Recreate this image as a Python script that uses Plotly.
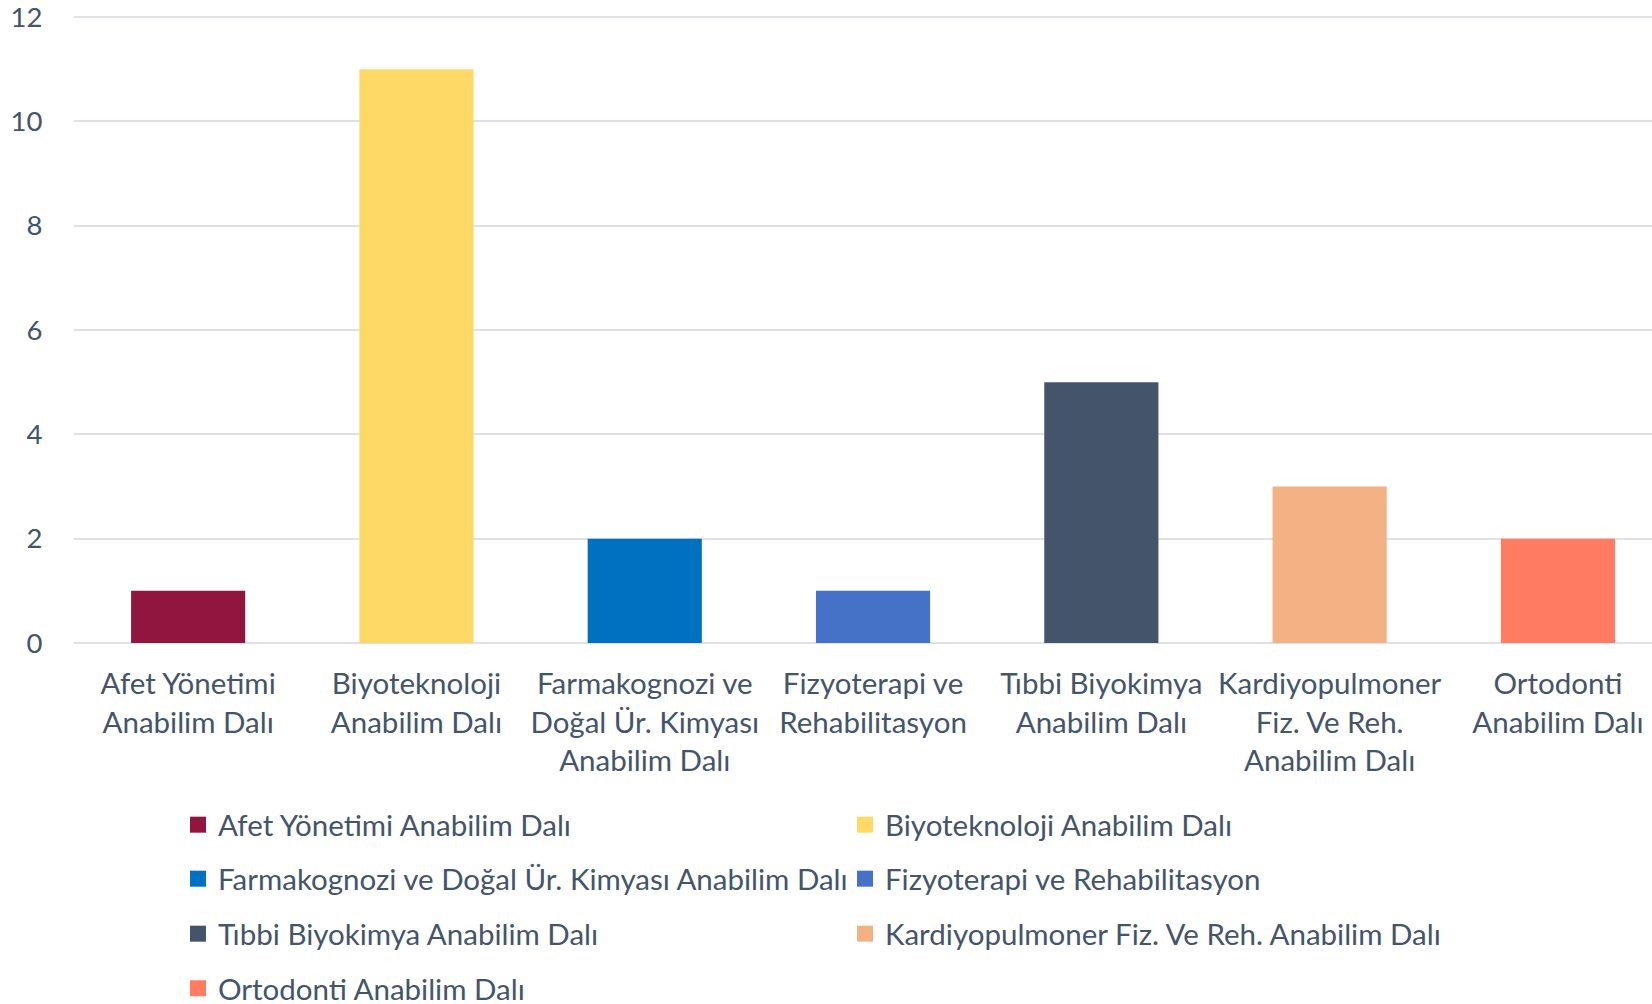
import plotly.graph_objects as go

categories = [
    "Afet Yönetimi Anabilim Dalı",
    "Biyoteknoloji Anabilim Dalı",
    "Farmakognozi ve Doğal Ür. Kimyası Anabilim Dalı",
    "Fizyoterapi ve Rehabilitasyon",
    "Tıbbi Biyokimya Anabilim Dalı",
    "Kardiyopulmoner Fiz. Ve Reh. Anabilim Dalı",
    "Ortodonti Anabilim Dalı",
]
tick_labels = [
    "Afet Yönetimi<br>Anabilim Dalı",
    "Biyoteknoloji<br>Anabilim Dalı",
    "Farmakognozi ve<br>Doğal Ür. Kimyası<br>Anabilim Dalı",
    "Fizyoterapi ve<br>Rehabilitasyon",
    "Tıbbi Biyokimya<br>Anabilim Dalı",
    "Kardiyopulmoner<br>Fiz. Ve Reh.<br>Anabilim Dalı",
    "Ortodonti<br>Anabilim Dalı",
]
values = [1, 11, 2, 1, 5, 3, 2]
colors = ["#901640", "#FFD966", "#0070C0", "#4571C6", "#44546A", "#F4B183", "#FF7C63"]
y_ticks = [0, 2, 4, 6, 8, 10, 12]

TEXT = "#44546A"
FONT = "Lato"
FS = 29.5

fig = go.Figure()
fig.add_trace(go.Bar(
    x=categories, y=values, marker=dict(color=colors, line=dict(width=0)),
    showlegend=False, hoverinfo="x+y",
))

# legend entries: two per row, one legend per row
legend_ids = ["legend", "legend", "legend2", "legend2", "legend3", "legend3", "legend4"]
for name, col, lg in zip(categories, colors, legend_ids):
    fig.add_trace(go.Scatter(
        x=[None], y=[None], mode="markers", name=name,
        marker=dict(symbol="square", size=16, color=col),
        legend=lg, showlegend=True,
    ))

W, H = 1652, 1004
plot_top, plot_bottom, plot_left = 16, 643, 74
row_centers = [826, 880, 935, 989.5]

def legend_cfg(py):
    return dict(
        orientation="h", xref="container", yref="container",
        x=178 / W, xanchor="left",
        y=1 - (py - 1) / H, yanchor="middle",
        entrywidth=622, entrywidthmode="pixels",
        font=dict(family=FONT, size=FS, color=TEXT),
        bgcolor="rgba(0,0,0,0)", itemsizing="trace",
    )

fig.update_layout(
    width=W, height=H,
    margin=dict(l=plot_left, r=0, t=plot_top, b=H - plot_bottom),
    paper_bgcolor="white", plot_bgcolor="white",
    font=dict(family=FONT, size=FS, color=TEXT),
    bargap=0.5,
    legend=legend_cfg(row_centers[0]),
    legend2=legend_cfg(row_centers[1]),
    legend3=legend_cfg(row_centers[2]),
    legend4=legend_cfg(row_centers[3]),
    xaxis=dict(
        tickmode="array", tickvals=categories, ticktext=tick_labels,
        range=[-0.5, 6.412],
        showgrid=False, showline=False, zeroline=False,
        ticks="outside", ticklen=15, tickcolor="rgba(0,0,0,0)",
        tickfont=dict(family=FONT, size=FS, color=TEXT),
        ticklabeloverflow="allow",
        fixedrange=True,
    ),
    yaxis=dict(
        range=[0, 12.02], tickvals=y_ticks,
        showgrid=True, gridcolor="#DEE2E8", gridwidth=2,
        zeroline=True, zerolinecolor="#DEE2E8", zerolinewidth=2,
        showline=False,
        ticks="outside", ticklen=25, tickcolor="rgba(0,0,0,0)",
        tickfont=dict(family=FONT, size=27.5, color=TEXT),
        ticklabeloverflow="allow",
        fixedrange=True,
    ),
)

fig.write_html(
    "out.html",
    config={"displayModeBar": False},
    post_script="document.body.style.margin='0';document.body.style.overflow='hidden';",
)
